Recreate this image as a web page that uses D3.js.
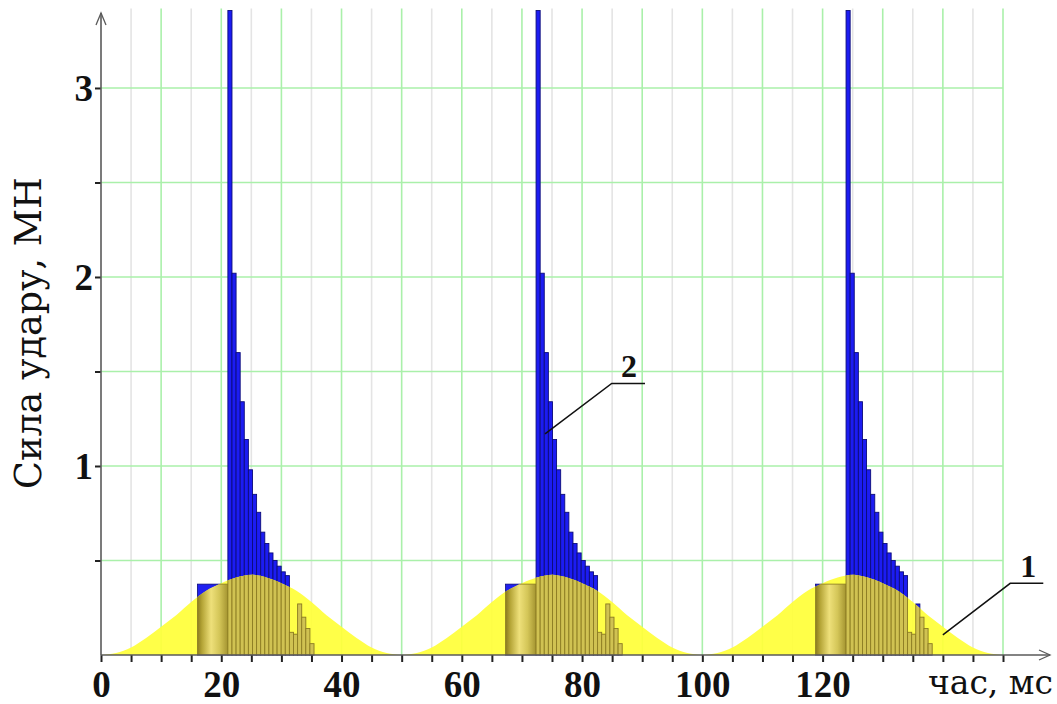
<!DOCTYPE html>
<html><head><meta charset="utf-8">
<script src="https://cdn.jsdelivr.net/npm/d3@7"></script>
<style>body{margin:0;background:#fff}</style>
</head><body>
<svg id="chart" width="1057" height="704"></svg>
<script>
// ---- data ----
// curve 1: force of one loading hump, ms / MN
const curveTime  = [0,2.5,5,7.5,10,12.5,15,17.5,20,22.5,25,27.5,30,32.5,35,37.5,40,42.5,45,47.5,50];
const curveForce = [0,0.01,0.04,0.09,0.15,0.21,0.28,0.34,0.38,0.41,0.425,0.41,0.38,0.34,0.28,0.21,0.15,0.09,0.04,0.01,0];
const humpStarts = [0, 50, 100];
// curve 2: impacts (bar series)
const impactStarts   = [21.1, 72.35, 123.9];   // start of the main spike, ms
const preloadDuration = 5.07;                  // ms, wide block before the spike
const preloadForce    = 0.375;                 // MN
const binWidth        = 0.682;                 // ms
const spikeForces = [3.41,2.02,1.60,1.34,1.14,0.98,0.85,0.755,0.65,0.59,0.54,0.50,0.47,0.44,0.42,
                     0.12,0.11,0.27,0.20,0.14,0.06];
// axes
const xLabelTicks = [0,20,40,60,80,100,120];
const yLabelTicks = [1,2,3];
const xTitle = "час, мс";
const yTitle = "Сила удару, МН";
// annotations: [leader start, elbow, end] in (ms, MN), label anchor
const annotations = [
  {label:"2", pts:[[73.84,1.17],[84.93,1.437],[90.47,1.437]], at:[87.8,1.47]},
  {label:"1", pts:[[140.0,0.106],[151.2,0.379],[156.7,0.379]], at:[154.2,0.413]}
];

// ---- drawing ----
const svg = d3.select("#chart");
const x = d3.scaleLinear().domain([0,150]).range([101,1003]);
const y = d3.scaleLinear().domain([0,3.42]).range([655,8.6]);
const serif = "'Liberation Serif', 'Times New Roman', serif";
const wideSerif = "'DejaVu Serif', serif";

const defs = svg.append("defs");
const g1 = defs.append("linearGradient").attr("id","blockGrad").attr("x1","0").attr("x2","1").attr("y1","0").attr("y2","0");
[[0,"#8a7a1e"],[0.15,"#b4a436"],[0.45,"#eee07a"],[0.72,"#d4c658"],[1,"#a49430"]]
  .forEach(([o,c])=>g1.append("stop").attr("offset",o).attr("stop-color",c));

// grid
const gridG = svg.append("g");
const minorX = x.ticks(30).filter(v => v > 0 && v % 10 !== 0);
const majorX = x.ticks(15).filter(v => v > 0);
gridG.selectAll(".gmin").data(minorX).join("line")
  .attr("x1",d=>x(d)).attr("x2",d=>x(d)).attr("y1",y(0)).attr("y2",y(3.42))
  .attr("stroke","#e4e4e4").attr("stroke-width",1.6);
gridG.selectAll(".gmaj").data(majorX).join("line")
  .attr("x1",d=>x(d)).attr("x2",d=>x(d)).attr("y1",y(0)).attr("y2",y(3.42))
  .attr("stroke","#aaf0aa").attr("stroke-width",1.6);
const gridY = y.ticks(7).filter(v => v > 0);
gridG.selectAll(".gy").data(gridY).join("line")
  .attr("x1",x(0)).attr("x2",x(150)).attr("y1",d=>y(d)).attr("y2",d=>y(d))
  .attr("stroke","#aaf0aa").attr("stroke-width",1.6);

// bar data
const blocks = impactStarts.map(t => ({t0: t - preloadDuration, t1: t, v: preloadForce}));
const bars = [];
impactStarts.forEach(t => spikeForces.forEach((v,i) => bars.push({t0: t + i*binWidth, t1: t + (i+1)*binWidth, v})));

function drawBars(sel, fillBlock, fillBar, stroke) {
  sel.selectAll(".blk").data(blocks).join("rect")
    .attr("x",d=>x(d.t0)).attr("width",d=>x(d.t1)-x(d.t0))
    .attr("y",d=>y(d.v)).attr("height",d=>y(0)-y(d.v))
    .attr("fill",fillBlock).attr("stroke",stroke).attr("stroke-width",0.8);
  sel.selectAll(".bar").data(bars).join("rect")
    .attr("x",d=>x(d.t0)).attr("width",d=>x(d.t1)-x(d.t0))
    .attr("y",d=>y(d.v)).attr("height",d=>y(0)-y(d.v))
    .attr("fill",fillBar).attr("stroke",stroke).attr("stroke-width",0.9);
}
drawBars(svg.append("g"), "#2020f0", "#1c1cf2", "#0c0c7a");

// yellow humps
const area = d3.area().x(d=>x(d[0])).y0(y(0)).y1(d=>y(d[1])).curve(d3.curveMonotoneX);
const humps = humpStarts.map(s => curveTime.map((t,i) => [s + t, curveForce[i]]));
const cp = defs.append("clipPath").attr("id","humpClip");
humps.forEach(h => cp.append("path").attr("d", area(h)));
svg.append("g").selectAll("path").data(humps).join("path")
  .attr("d", area).attr("fill","#ffff3a").attr("opacity",0.93);

// bars seen through the hump
const olive = svg.append("g").attr("clip-path","url(#humpClip)");
drawBars(olive, "url(#blockGrad)", "#d0c252", "#8c7c24");

// axes
const axisColor = "#5a5a5a";
const xAxis = d3.axisBottom(x).tickValues(x.ticks(30)).tickSize(7).tickSizeOuter(0)
  .tickFormat(d => xLabelTicks.includes(d) ? d : "");
const gx = svg.append("g").attr("transform",`translate(0,${y(0)})`).call(xAxis);
gx.select(".domain").remove();
gx.selectAll(".tick line").attr("stroke","#222").attr("stroke-width",2);
gx.selectAll(".tick text").attr("y",42).attr("dy",0).attr("fill","#111")
  .style("font-family",serif).style("font-weight","bold").style("font-size","37px");

const yAxis = d3.axisLeft(y).tickValues(gridY).tickSize(6).tickSizeOuter(0)
  .tickFormat(d => yLabelTicks.includes(d) ? d : "");
const gy = svg.append("g").attr("transform",`translate(${x(0)},0)`).call(yAxis);
gy.select(".domain").remove();
gy.selectAll(".tick line").attr("stroke","#222").attr("stroke-width",2);
gy.selectAll(".tick text").attr("x",-8).attr("dy","0.34em").attr("fill","#111")
  .style("font-family",serif).style("font-weight","bold").style("font-size","37px");

// axis lines with arrows
svg.append("line").attr("x1",x(0)).attr("x2",1050).attr("y1",y(0)).attr("y2",y(0))
  .attr("stroke",axisColor).attr("stroke-width",1.6);
svg.append("path").attr("d",`M1039,${y(0)-5}L1050,${y(0)}L1039,${y(0)+5}`)
  .attr("fill","none").attr("stroke",axisColor).attr("stroke-width",1.3);
svg.append("line").attr("x1",x(0)).attr("x2",x(0)).attr("y1",y(0)).attr("y2",13)
  .attr("stroke",axisColor).attr("stroke-width",1.6);
svg.append("path").attr("d",`M${x(0)-5},25L${x(0)},13L${x(0)+5},25`)
  .attr("fill","none").attr("stroke",axisColor).attr("stroke-width",1.3);

// titles
svg.append("text").attr("x",1053).attr("y",694).attr("text-anchor","end")
  .style("font-family",wideSerif).style("font-size","33px").attr("fill","#111").text(xTitle);
svg.append("text").attr("transform","translate(41,333) rotate(-90)").attr("text-anchor","middle")
  .style("font-family",wideSerif).style("font-size","36.5px").attr("fill","#111").text(yTitle);

// annotations
const line = d3.line().x(d=>x(d[0])).y(d=>y(d[1]));
annotations.forEach(a => {
  svg.append("path").attr("d", line(a.pts)).attr("fill","none").attr("stroke","#111").attr("stroke-width",1.5);
  svg.append("text").attr("x",x(a.at[0])).attr("y",y(a.at[1])).attr("text-anchor","middle")
    .style("font-family",serif).style("font-weight","bold").style("font-size","32px").attr("fill","#111").text(a.label);
});
</script>
</body></html>
